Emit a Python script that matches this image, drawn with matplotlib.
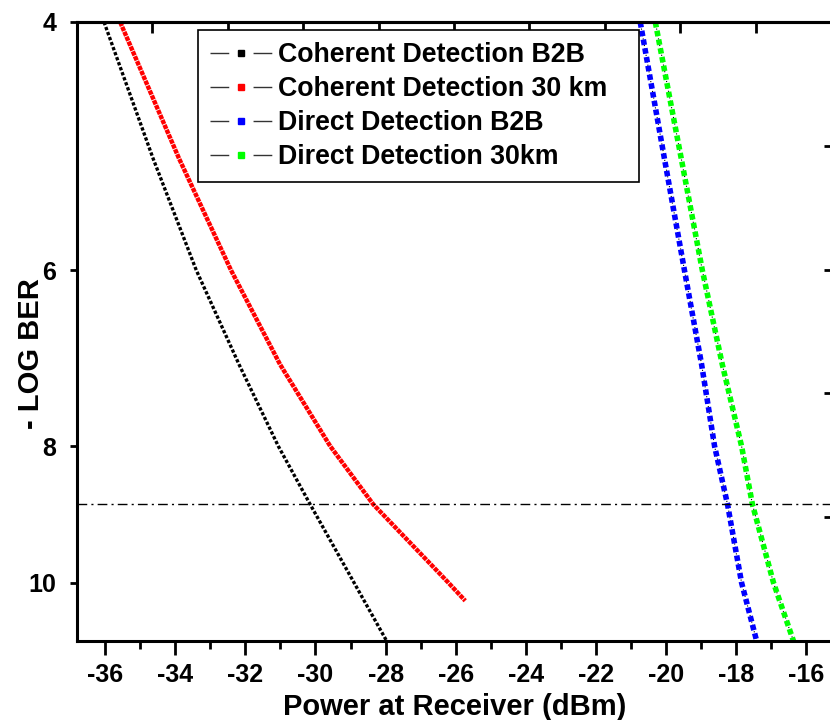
import numpy as np
import matplotlib
matplotlib.use("Agg")
import matplotlib.pyplot as plt
from matplotlib.lines import Line2D
from matplotlib.ticker import FixedLocator, NullLocator, FixedFormatter

plt.rcParams['font.family'] = ['Liberation Sans', 'DejaVu Sans']
plt.rcParams['font.weight'] = 'bold'

# -log BER levels, with the received power for each curve
coh_b2b_ber = [4, 5, 6, 7, 8, 8.8, 10, 11]
coh_b2b_pow = [-36.03, -34.63, -33.40, -32.18, -31.06, -30.15, -28.90, -27.97]

coh_30_ber = [4, 5, 6, 7, 8, 8.8, 10, 10.3]
coh_30_pow = [-35.57, -33.89, -32.41, -31.01, -29.58, -28.35, -26.21, -25.73]

dd_b2b_ber = [4, 5, 6, 7, 8, 8.8, 10, 11]
dd_b2b_pow = [-20.74, -20.05, -19.48, -18.99, -18.62, -18.25, -17.85, -17.42]

dd_30_ber = [4, 5, 6, 7, 8, 8.8, 10, 11]
dd_30_pow = [-20.31, -19.57, -18.97, -18.40, -17.85, -17.54, -16.94, -16.37]

labels = ["Coherent Detection B2B", "Coherent Detection 30 km",
          "Direct Detection B2B", "Direct Detection 30km"]
colors = ["black", "red", "#0000ff", "#00ff00"]

threshold = 8.8
xmin, xmax = -36.8, -15.3
ymin, ymax = 4, 11
xticks = list(range(-36, -15, 2))
yticks = [4, 6, 8, 10]

fig = plt.figure(figsize=(8.3, 7.2), dpi=100)
ax = fig.add_axes([77 / 830, 1 - 641 / 720, 754 / 830, 619 / 720])

# curves
ax.plot(coh_b2b_pow, coh_b2b_ber, color="black", lw=2.4, ls=(0, (1, 0.6)))
ax.plot(coh_30_pow, coh_30_ber, color="red", lw=3.2, ls=(0, (1, 0.2)))
ax.plot(dd_b2b_pow, dd_b2b_ber, color="black", lw=0.8, ls=(0, (1, 2)))
ax.plot(dd_b2b_pow, dd_b2b_ber, color="#0000ff", lw=4, ls=(0, (1, 0.6)))
ax.plot(dd_30_pow, dd_30_ber, color="black", lw=0.8, ls=(0, (1, 2)))
ax.plot(dd_30_pow, dd_30_ber, color="#00ff00", lw=4, ls=(0, (1, 0.6)))

ax.axhline(threshold, color="black", lw=1, ls=(0, (7, 3, 1.5, 3)))

ax.set_yscale("log")
ax.set_ylim(ymax, ymin)
ax.set_xlim(xmin, xmax)

ax.yaxis.set_major_locator(FixedLocator(yticks))
ax.yaxis.set_major_formatter(FixedFormatter([str(t) for t in yticks]))
ax.yaxis.set_minor_locator(NullLocator())
ax.set_xticks(xticks)
ax.set_xticklabels([str(t) for t in xticks])
ax.set_xticks(list(range(-35, -15, 2)), minor=True)

ax.tick_params(axis="x", which="major", direction="out", length=10, width=2, labelsize=18, pad=6)
ax.tick_params(axis="x", which="minor", direction="out", length=6, width=2)
ax.tick_params(axis="y", which="major", direction="out", length=5, width=2, labelsize=18, pad=10)

for s in ["left", "bottom", "top"]:
    ax.spines[s].set_linewidth(2.2)
ax.spines["right"].set_visible(False)

# inward ticks on top and right edges
top = ax.secondary_xaxis("top")
top.set_xticks(np.linspace(xmin, xmax, 11)[1:-1])
top.set_xticklabels([])
top.tick_params(direction="in", length=8, width=2)
top.spines["top"].set_linewidth(2.2)

right = ax.secondary_yaxis("right")
right.set_yticks(np.geomspace(ymin, ymax, 6)[1:-1])
right.set_yticklabels([])
right.yaxis.set_minor_locator(NullLocator())
right.tick_params(direction="in", length=5, width=2)
right.spines["right"].set_visible(False)

ax.set_xlabel("Power at Receiver (dBm)", fontsize=21, fontweight="bold")
ax.xaxis.set_label_coords(0.501, -0.107)
ax.xaxis.label.set_va("center")
ax.set_ylabel("- LOG BER", fontsize=21, fontweight="bold")
ax.yaxis.set_label_coords(-0.061, 0.465)
ax.yaxis.label.set_va("center")

handles = [Line2D([], [], color="#333333", lw=1, ls=(0, (13.5, 17.5)),
                  marker="s", markersize=4, markerfacecolor=c, markeredgecolor=c)
           for c in colors]
leg_w = (639 - 198) / 830
leg_h = (184 - 29) / 720
leg = fig.legend(handles, labels, loc="upper left",
                 bbox_to_anchor=(198 / 830, 1 - 30 / 720 - leg_h, leg_w, leg_h),
                 mode="expand", borderaxespad=0,
                 handlelength=2.3, handletextpad=0.25,
                 labelspacing=0.3, borderpad=0.45, fancybox=False,
                 framealpha=1, edgecolor="black", prop={"weight": "bold", "size": 19.3})
leg.get_frame().set_linewidth(1.2)

fig.savefig("out.png", dpi=100)
